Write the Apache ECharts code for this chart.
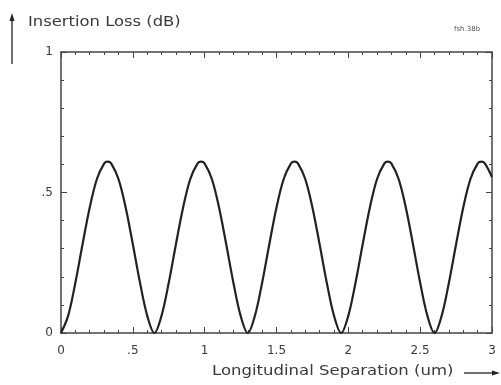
<!DOCTYPE html>
<html>
<head>
<meta charset="utf-8">
<script src="https://cdn.jsdelivr.net/npm/echarts@6/dist/echarts.min.js"></script>
<style>
  html, body { margin: 0; padding: 0; background: #fff; }
  #main { width: 501px; height: 385px; }
</style>
</head>
<body>
<div id="main"></div>
<script>
// separation (um)
const separation = [
  0, 0.05, 0.1, 0.15, 0.2, 0.25, 0.3, 0.325, 0.35, 0.4, 0.45, 0.5, 0.55, 0.6,
  0.65, 0.7, 0.75, 0.8, 0.85, 0.9, 0.95, 0.975, 1.0, 1.05, 1.1, 1.15, 1.2, 1.25,
  1.3, 1.35, 1.4, 1.45, 1.5, 1.55, 1.6, 1.625, 1.65, 1.7, 1.75, 1.8, 1.85, 1.9,
  1.95, 2.0, 2.05, 2.1, 2.15, 2.2, 2.25, 2.275, 2.3, 2.35, 2.4, 2.45, 2.5, 2.55,
  2.6, 2.65, 2.7, 2.75, 2.8, 2.85, 2.9, 2.925, 2.95, 3.0
]
// insertion loss (dB)
const loss = [
  0, 0.062, 0.179, 0.316, 0.447, 0.548, 0.603, 0.61, 0.603, 0.548, 0.447, 0.316, 0.179, 0.062,
  0, 0.062, 0.179, 0.316, 0.447, 0.548, 0.603, 0.61, 0.603, 0.548, 0.447, 0.316, 0.179, 0.062,
  0, 0.062, 0.179, 0.316, 0.447, 0.548, 0.603, 0.61, 0.603, 0.548, 0.447, 0.316, 0.179, 0.062,
  0, 0.062, 0.179, 0.316, 0.447, 0.548, 0.603, 0.61, 0.603, 0.548, 0.447, 0.316, 0.179, 0.062,
  0, 0.062, 0.179, 0.316, 0.447, 0.548, 0.603, 0.61, 0.604, 0.555
]
const xTickLabels = { 0: '0', 0.5: '.5', 1: '1', 1.5: '1.5', 2: '2', 2.5: '2.5', 3: '3' }
const yTickLabels = { 0: '0', 0.5: '.5', 1: '1' }

const chartObj = echarts.init(document.getElementById('main'), null, { renderer: 'canvas' })

const ink = '#3a3a3a'
const fontFamily = 'DejaVu Sans, sans-serif'

// 框线上的刻度（朝内）
const frameAxis = {
  axisLine: { show: true, onZero: false, lineStyle: { color: '#444', width: 1.5 } },
  axisTick: { show: true, inside: true, length: 6, lineStyle: { color: '#444', width: 1 } },
  minorTick: { show: true, splitNumber: 5, length: 3, lineStyle: { color: '#444', width: 1 } },
  splitLine: { show: false }
}

const option = {
  backgroundColor: '#fff',
  animation: false,
  grid: { left: 61, right: 9, top: 52, bottom: 52, containLabel: false },
  xAxis: [
    {
      type: 'value', min: 0, max: 3, interval: 0.5, position: 'bottom',
      ...frameAxis,
      axisLabel: {
        color: ink, fontSize: 12, fontFamily: fontFamily, margin: 12,
        formatter: v => xTickLabels[v] !== undefined ? xTickLabels[v] : ''
      }
    },
    {
      type: 'value', min: 0, max: 3, interval: 0.5, position: 'top',
      ...frameAxis,
      axisLabel: { show: false }
    }
  ],
  yAxis: [
    {
      type: 'value', min: 0, max: 1, interval: 0.5, position: 'left',
      ...frameAxis,
      axisLabel: {
        color: ink, fontSize: 12, fontFamily: fontFamily, margin: 8,
        formatter: v => yTickLabels[v] !== undefined ? yTickLabels[v] : ''
      }
    },
    {
      type: 'value', min: 0, max: 1, interval: 0.5, position: 'right',
      ...frameAxis,
      axisLabel: { show: false }
    }
  ],
  series: [
    {
      type: 'line',
      data: separation.map((x, i) => [x, loss[i]]),
      smooth: 0.35,
      symbol: 'none',
      clip: false,
      lineStyle: { color: '#222', width: 2.2 }
    }
  ],
  graphic: [
    // y 轴标题与箭头
    { type: 'line', shape: { x1: 12, y1: 64, x2: 12, y2: 20 }, style: { stroke: '#222', lineWidth: 1.3 } },
    { type: 'polygon', shape: { points: [[12, 13], [9.5, 21], [14.5, 21]] }, style: { fill: '#222' } },
    {
      type: 'text', x: 28, y: 15, scaleX: 1.17,
      style: { text: 'Insertion Loss (dB)', fill: ink, font: '14px ' + fontFamily }
    },
    {
      type: 'text', x: 454, y: 26,
      style: { text: 'fsh.38b', fill: '#555', font: '7px ' + fontFamily }
    },
    // x 轴标题与箭头
    {
      type: 'text', x: 212, y: 364, scaleX: 1.18,
      style: { text: 'Longitudinal Separation (um)', fill: ink, font: '14px ' + fontFamily }
    },
    { type: 'line', shape: { x1: 464, y1: 373, x2: 493, y2: 373 }, style: { stroke: '#222', lineWidth: 1.3 } },
    { type: 'polygon', shape: { points: [[500, 373], [492, 370.5], [492, 375.5]] }, style: { fill: '#222' } }
  ]
}

chartObj.setOption(option, true)
</script>
</body>
</html>
